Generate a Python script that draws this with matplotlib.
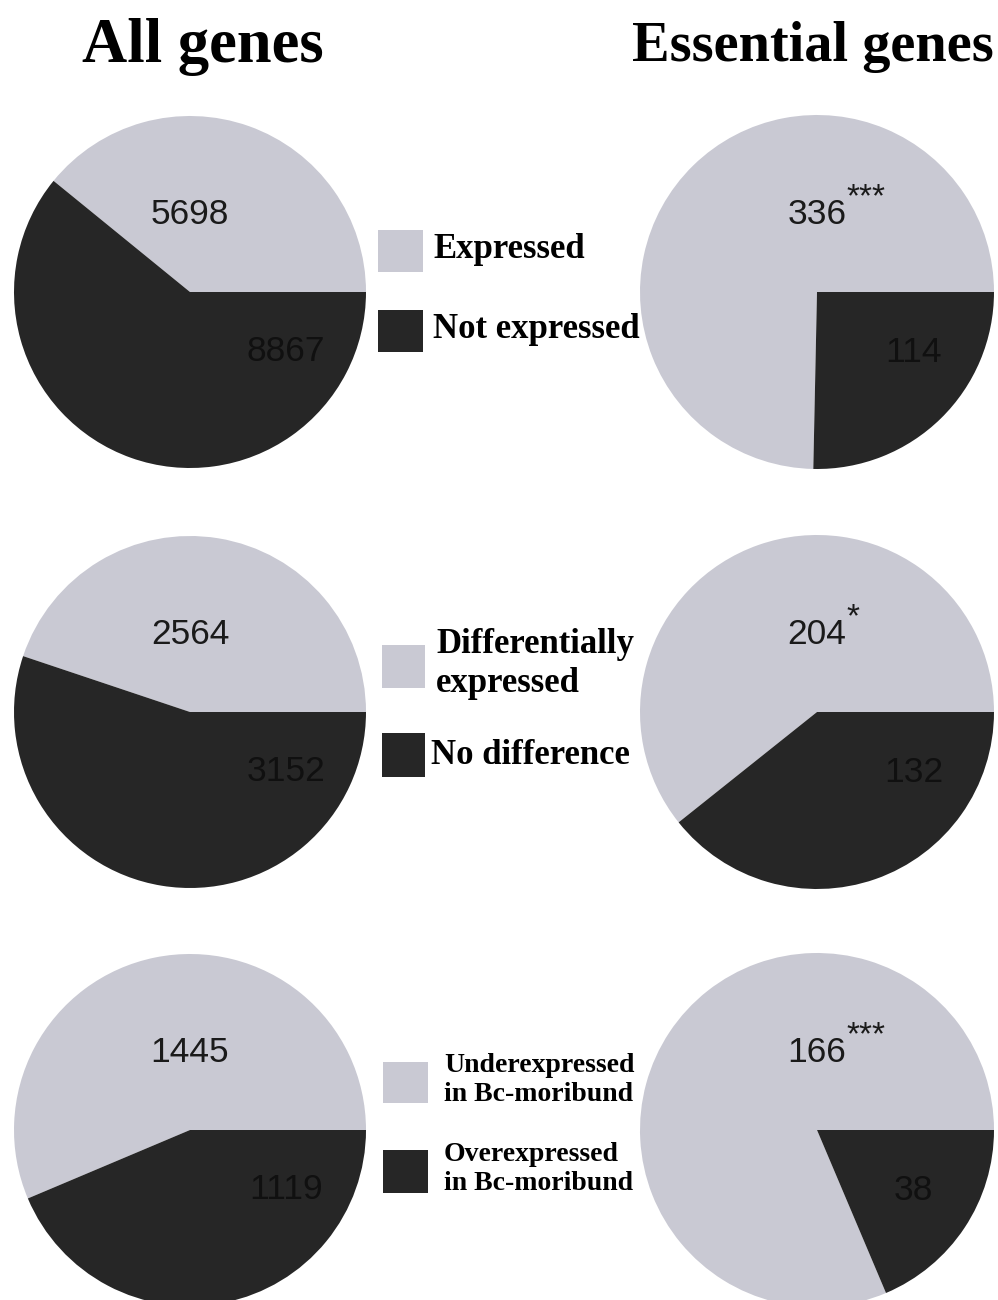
import matplotlib.pyplot as plt
from matplotlib.patches import Rectangle

# gene counts: (light wedge, dark wedge) for each row
all_expressed = [5698, 8867]
ess_expressed = [336, 114]
all_diff = [2564, 3152]
ess_diff = [204, 132]
all_direction = [1445, 1119]
ess_direction = [166, 38]
ess_stars = ['***', '*', '***']

titles = ['All genes', 'Essential genes']
legend_labels = [
    ['Expressed', 'Not expressed'],
    ['Differentially\nexpressed', 'No difference'],
    ['Underexpressed\nin Bc-moribund', 'Overexpressed\nin Bc-moribund'],
]

LIGHT = '#c9c9d3'
DARK = '#262626'

W, H = 998, 1300
fig = plt.figure(figsize=(W / 100, H / 100), dpi=100)


def fx(x):
    return x / W


def fy(y):
    return 1 - y / H


def draw_pie(cx, cy, r, values, stars=''):
    ax = fig.add_axes([fx(cx - r), fy(cy + r), 2 * r / W, 2 * r / H])
    ax.pie(values, colors=[LIGHT, DARK], startangle=0, counterclock=True,
           radius=1, wedgeprops=dict(linewidth=0))
    ax.set_xlim(-1, 1)
    ax.set_ylim(-1, 1)
    ax.set_aspect('equal')
    ax.axis('off')
    t = ax.text(0, 0.44, f'{values[0]}', ha='center', va='center',
                fontsize=25.5, family='Liberation Sans', color='#1a1a1a')
    ax.text(0.545, -0.34, f'{values[1]}', ha='center', va='center',
            fontsize=25.5, family='Liberation Sans', color='#101010')
    if stars:
        ax.annotate(stars, xy=(1, 1), xycoords=t, xytext=(0, 0),
                    textcoords='offset points', ha='left', va='center',
                    fontsize=24, family='Liberation Sans', color='#1a1a1a')
    return ax


rows_y = [292, 712, 1130]
left_data = [all_expressed, all_diff, all_direction]
right_data = [ess_expressed, ess_diff, ess_direction]
for cy, lv, rv, st in zip(rows_y, left_data, right_data, ess_stars):
    draw_pie(190, cy, 176, lv)
    draw_pie(817, cy, 177, rv, st)

# column titles
fig.text(fx(203), fy(47), titles[0], ha='center', va='center',
         fontsize=45, fontweight='bold', family='Liberation Serif')
fig.text(fx(813), fy(47), titles[1], ha='center', va='center',
         fontsize=40.5, fontweight='bold', family='Liberation Serif')

# legends between the pie columns: (box x, box w, light y0/y1, dark y0/y1,
# text x, light text y, dark text x, dark text y, font size, line spacing)
legend_layout = [
    (378, 45, (230, 272), (310, 352), 433, 250, 433, 329, 25, 1.2),
    (382, 43, (645, 688), (733, 777), 436, 664, 431, 755, 25, 1.22),
    (383, 45, (1062, 1103), (1150, 1193), 444, 1080, 444, 1169, 20, 1.26),
]
for labels, lay in zip(legend_labels, legend_layout):
    bx, bw, ly, dy, tx, ty, dtx, dty, fs, ls = lay
    for (y0, y1), col in zip([ly, dy], [LIGHT, DARK]):
        fig.patches.append(Rectangle((fx(bx), fy(y1)), bw / W, (y1 - y0) / H,
                                     transform=fig.transFigure, facecolor=col,
                                     edgecolor='none'))
    fig.text(fx(tx), fy(ty), labels[0], ha='left', va='center', fontsize=fs,
             fontweight='bold', family='Liberation Serif', linespacing=ls)
    fig.text(fx(dtx), fy(dty), labels[1], ha='left', va='center', fontsize=fs,
             fontweight='bold', family='Liberation Serif', linespacing=ls)

fig.savefig('out.png', dpi=100, facecolor='white')
